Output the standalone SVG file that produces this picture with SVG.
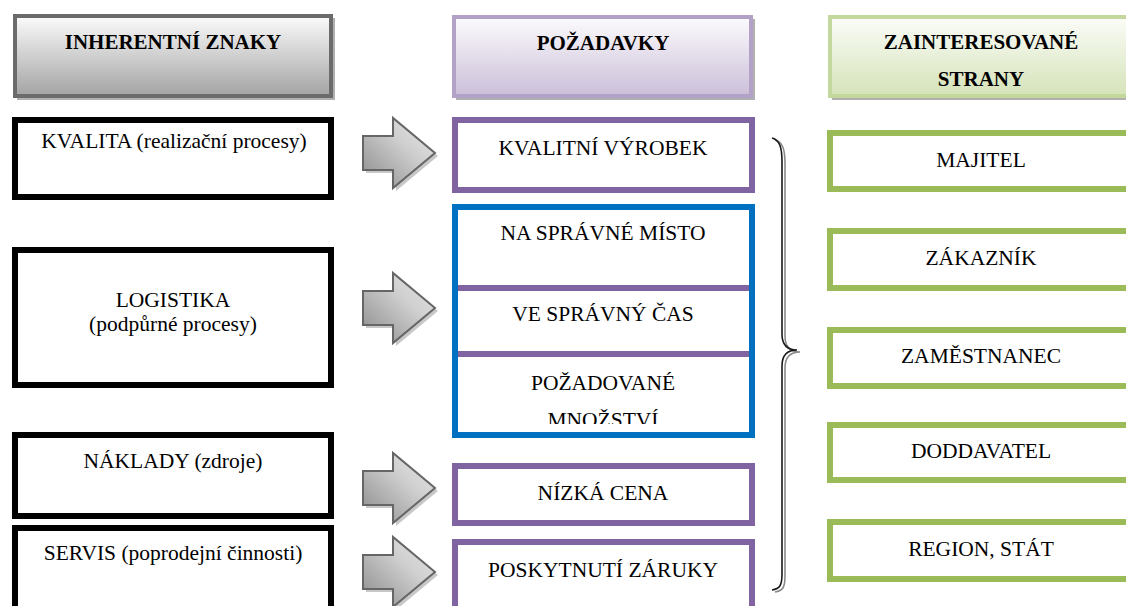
<svg xmlns="http://www.w3.org/2000/svg" xmlns:xlink="http://www.w3.org/1999/xlink" width="1126" height="606" viewBox="0 0 1126 606">
<style>
  text { font-family: 'Liberation Serif', 'Times New Roman', Times, 'DejaVu Serif', serif; }
  .t { font-size: 21.5px; fill: #000; text-anchor: middle; }
  .h { font-size: 21px; font-weight: bold; fill: #000; text-anchor: middle; }
  .blk { fill: #fff; stroke: #000; stroke-width: 6; }
  .pur { fill: #fff; stroke: #8064a2; stroke-width: 6; }
  .blu { fill: none; stroke: #0070c0; stroke-width: 6; }
  .grn { fill: #fff; stroke: #9bbb59; stroke-width: 6; }
  .shd { fill: none; stroke: #b0b0b0; stroke-width: 2; }
  .brace { fill: none; stroke: #1a1a1a; stroke-width: 1.6; }
  .brace2 { fill: none; stroke: #8a8a8a; stroke-width: 1.6; }
</style>
<defs>
  <linearGradient id="gGrey" x1="0" y1="0" x2="0" y2="1">
    <stop offset="0" stop-color="#fbfbfb"/>
    <stop offset="1" stop-color="#a3a3a3"/>
  </linearGradient>
  <linearGradient id="gPur" x1="0" y1="0" x2="0" y2="1">
    <stop offset="0" stop-color="#fcfbfd"/>
    <stop offset="1" stop-color="#cbbfd9"/>
  </linearGradient>
  <linearGradient id="gGrn" x1="0" y1="0" x2="0" y2="1">
    <stop offset="0" stop-color="#fbfcf8"/>
    <stop offset="1" stop-color="#d5e3b9"/>
  </linearGradient>
  <linearGradient id="gArrow" x1="0" y1="1" x2="1" y2="0">
    <stop offset="0" stop-color="#8a8a8a"/>
    <stop offset="0.6" stop-color="#cfcfcf"/>
    <stop offset="1" stop-color="#e8e8e8"/>
  </linearGradient>
  <g id="arrow">
    <polygon points="366,-14 396,-14 396,-32 438,3 396,38 396,20 366,20" fill="#c8c8c8"/>
    <polygon points="363,-17 393,-17 393,-35 435,0 393,35 393,17 363,17" fill="url(#gArrow)" stroke="#666" stroke-width="2" stroke-linejoin="miter"/>
  </g>
  <clipPath id="clipMn">
    <rect x="458" y="357" width="291" height="67"/>
  </clipPath>
</defs>

<!-- Column 1 -->
<g id="hdr-inherent">
  <rect x="18" y="19" width="316" height="80" class="shd"/>
  <rect x="15" y="16" width="316" height="80" fill="url(#gGrey)" stroke="#6b6b6b" stroke-width="4"/>
  <text x="173" y="49" class="h">INHERENTNÍ ZNAKY</text>
</g>
<g id="kvalita">
  <rect x="15" y="120" width="316" height="77" class="blk"/>
  <text x="174" y="148" class="t">KVALITA (realizační procesy)</text>
</g>
<g id="logistika">
  <rect x="15" y="250" width="316" height="135" class="blk"/>
  <text x="173" y="307" class="t">LOGISTIKA</text>
  <text x="173" y="331" class="t">(podpůrné procesy)</text>
</g>
<g id="naklady">
  <rect x="15" y="435" width="316" height="81" class="blk"/>
  <text x="173" y="468" class="t">NÁKLADY (zdroje)</text>
</g>
<g id="servis">
  <rect x="15" y="528" width="316" height="90" class="blk"/>
  <text x="173" y="560" class="t">SERVIS (poprodejní činnosti)</text>
</g>

<!-- Column 2 -->
<g id="hdr-pozadavky">
  <rect x="457" y="20" width="297" height="79" class="shd"/>
  <rect x="454" y="17" width="297" height="79" fill="url(#gPur)" stroke="#b3a2c7" stroke-width="4"/>
  <text x="603" y="50" class="h">POŽADAVKY</text>
</g>
<g id="kvalitni-vyrobek">
  <rect x="455" y="120" width="297" height="70" class="pur"/>
  <text x="603" y="155" class="t">KVALITNÍ VÝROBEK</text>
</g>
<g id="logistika-pozadavky">
  <rect x="455" y="207" width="297" height="228" fill="#fff"/>
  <line x1="458" y1="288" x2="749" y2="288" stroke="#8064a2" stroke-width="6"/>
  <line x1="458" y1="354" x2="749" y2="354" stroke="#8064a2" stroke-width="6"/>
  <rect x="455" y="207" width="297" height="228" class="blu"/>
  <text x="603" y="240" class="t">NA SPRÁVNÉ MÍSTO</text>
  <text x="603" y="321" class="t">VE SPRÁVNÝ ČAS</text>
  <text x="603" y="390" class="t">POŽADOVANÉ</text>
  <text x="603" y="427" class="t" clip-path="url(#clipMn)">MNOŽSTVÍ</text>
</g>
<g id="nizka-cena">
  <rect x="455" y="466" width="297" height="57" class="pur"/>
  <text x="603" y="500" class="t">NÍZKÁ CENA</text>
</g>
<g id="poskytnuti-zaruky">
  <rect x="455" y="542" width="297" height="80" class="pur"/>
  <text x="603" y="577" class="t">POSKYTNUTÍ ZÁRUKY</text>
</g>

<!-- Column 3 -->
<g id="hdr-strany">
  <rect x="833" y="20" width="304" height="79" class="shd"/>
  <rect x="830" y="17" width="304" height="79" fill="url(#gGrn)" stroke="#c3d69b" stroke-width="4"/>
  <text x="981" y="49" class="h">ZAINTERESOVANÉ</text>
  <text x="981" y="86" class="h">STRANY</text>
</g>
<g id="majitel">
  <rect x="830" y="133" width="304" height="56" class="grn"/>
  <text x="981" y="167" class="t">MAJITEL</text>
</g>
<g id="zakaznik">
  <rect x="830" y="231" width="304" height="57" class="grn"/>
  <text x="981" y="265" class="t">ZÁKAZNÍK</text>
</g>
<g id="zamestnanec">
  <rect x="830" y="330" width="304" height="56" class="grn"/>
  <text x="981" y="363" class="t">ZAMĚSTNANEC</text>
</g>
<g id="dodavatel">
  <rect x="830" y="425" width="304" height="55" class="grn"/>
  <text x="981" y="458" class="t">DODDAVATEL</text>
</g>
<g id="region-stat">
  <rect x="830" y="522" width="304" height="57" class="grn"/>
  <text x="981" y="556" class="t">REGION, STÁT</text>
</g>

<!-- Connectors -->
<g id="connectors">
  <use xlink:href="#arrow" href="#arrow" transform="translate(0,153)"/>
  <use xlink:href="#arrow" href="#arrow" transform="translate(0,308)"/>
  <use xlink:href="#arrow" href="#arrow" transform="translate(0,488)"/>
  <use xlink:href="#arrow" href="#arrow" transform="translate(0,572)"/>
  <path class="brace2" transform="translate(3,2)" d="M772,138 C780,140 782,148 782,162 L782,334 C782,345 787,350 797,350 C787,350 782,356 782,366 L782,574 C782,585 780,589 772,590"/>
  <path class="brace" d="M772,138 C780,140 782,148 782,162 L782,334 C782,345 787,350 797,350 C787,350 782,356 782,366 L782,574 C782,585 780,589 772,590"/>
</g>
</svg>
